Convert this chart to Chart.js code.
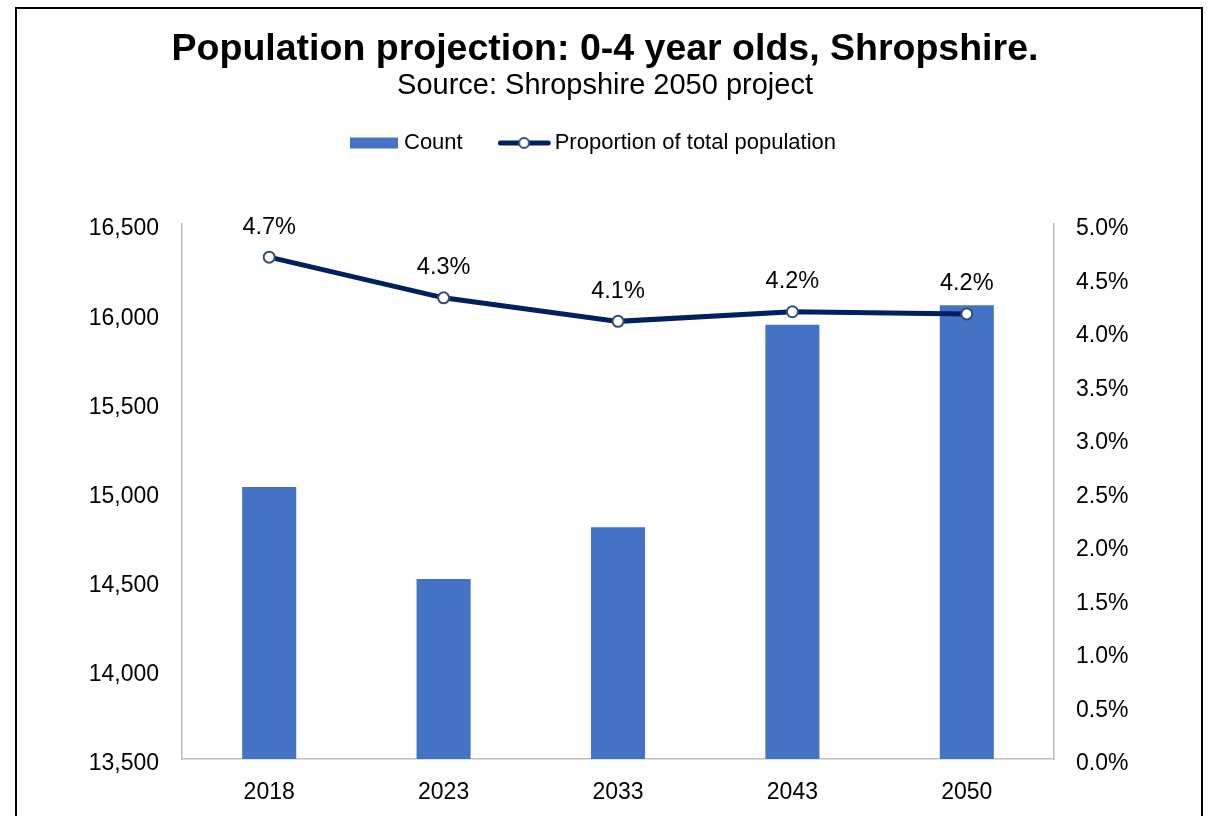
<!DOCTYPE html>
<html>
<head>
<meta charset="utf-8">
<script src="https://cdn.jsdelivr.net/npm/chart.js@4.4.0/dist/chart.umd.min.js"></script>
<style>
html,body{margin:0;padding:0;background:#fff;overflow:hidden}
canvas{display:block}
</style>
</head>
<body>
<canvas id="c" width="1210" height="816"></canvas>
<script>
// ---- data ----
const years = ['2018', '2023', '2033', '2043', '2050'];
const countValues = [15025, 14510, 14800, 15935, 16045];
const proportionValues = [4.69, 4.31, 4.09, 4.18, 4.16];   // percent
const countAxis = { min: 13500, max: 16500, step: 500 };
const proportionAxis = { min: 0, max: 5, step: 0.5 };
const titleText = 'Population projection: 0-4 year olds, Shropshire.';
const subtitleText = 'Source: Shropshire 2050 project';
const seriesNames = ['Count', 'Proportion of total population'];

// ---- style ----
const FONT = "'Liberation Sans', Arial, Helvetica, sans-serif";
const BAR_COLOR = '#4472C4';
const LINE_COLOR = '#002060';
const AXIS_COLOR = '#BFBFBF';
const LEG_B = 19, LEG_P = 62;

function makeIcon(w, h, drawFn) {
  const cv = document.createElement('canvas');
  cv.width = w; cv.height = h;
  drawFn(cv.getContext('2d'), w, h);
  return cv;
}
const barIcon = makeIcon(67, 12, (g) => {
  g.fillStyle = BAR_COLOR;
  g.fillRect(0, 0.5, 48, 11);
});
const lineIcon = makeIcon(73, 16, (g) => {
  g.strokeStyle = LINE_COLOR;
  g.lineWidth = 5;
  g.lineCap = 'round';
  g.beginPath(); g.moveTo(2.5, 8); g.lineTo(50.5, 8); g.stroke();
  g.beginPath(); g.arc(26.3, 8, 5, 0, Math.PI * 2);
  g.fillStyle = '#fff'; g.fill();
  g.lineWidth = 2; g.strokeStyle = '#3B4E6E'; g.stroke();
});
const legendIcons = [barIcon, lineIcon];

Chart.defaults.font.family = FONT;
Chart.defaults.color = '#000';

const borderPlugin = {
  id: 'frame',
  afterDraw(chart) {
    const g = chart.ctx;
    g.save();
    g.strokeStyle = '#000';
    g.lineWidth = 2;
    g.strokeRect(16, 8, 1186, 900);
    g.restore();
  }
};

const legendSpacePlugin = {
  id: 'legendSpace',
  beforeLayout(chart) {
    const lg = chart.legend;
    if (lg && !lg._patched) {
      const orig = lg.fit;
      lg.fit = function () { orig.call(this); this.height = 154; };
      lg._patched = true;
    }
  }
};

const valueLabelPlugin = {
  id: 'valueLabels',
  afterDatasetsDraw(chart) {
    const g = chart.ctx;
    const meta = chart.getDatasetMeta(1);
    g.save();
    g.font = '23.5px ' + FONT;
    g.fillStyle = '#000';
    g.textAlign = 'center';
    g.textBaseline = 'middle';
    meta.data.forEach((pt, i) => {
      g.fillText(proportionValues[i].toFixed(1) + '%', pt.x, pt.y - 30);
    });
    g.restore();
  }
};

new Chart(document.getElementById('c'), {
  data: {
    labels: years,
    datasets: [
      {
        type: 'bar',
        label: seriesNames[0],
        data: countValues,
        backgroundColor: BAR_COLOR,
        yAxisID: 'y',
        categoryPercentage: 1,
        barPercentage: 0.31,
        order: 2
      },
      {
        type: 'line',
        label: seriesNames[1],
        data: proportionValues,
        borderColor: LINE_COLOR,
        borderWidth: 5,
        tension: 0,
        pointRadius: 5.5,
        pointBackgroundColor: '#fff',
        pointBorderColor: '#3B4E6E',
        pointBorderWidth: 2,
        yAxisID: 'y1',
        order: 1
      }
    ]
  },
  options: {
    responsive: false,
    animation: false,
    devicePixelRatio: 1,
    layout: { padding: 0 },
    plugins: {
      tooltip: { enabled: false },
      title: {
        display: true,
        text: titleText,
        font: { size: 37.5, weight: 'bold', lineHeight: 1.0 },
        color: '#000',
        padding: { top: 30.75, bottom: 0 }
      },
      subtitle: {
        display: true,
        text: subtitleText,
        font: { size: 29, weight: 'normal', lineHeight: 1.0 },
        color: '#000',
        padding: { top: 3.25, bottom: -30.5 }
      },
      legend: {
        display: true,
        position: 'top',
        labels: {
          usePointStyle: true,
          pointStyleWidth: LEG_B,
          padding: LEG_P,
          color: '#000',
          font: { size: 22 },
          generateLabels: (chart) => chart.data.datasets.map((ds, i) => ({
            text: ds.label,
            pointStyle: legendIcons[i],
            fillStyle: 'transparent',
            strokeStyle: 'transparent',
            lineWidth: 0,
            hidden: false,
            datasetIndex: i
          }))
        }
      }
    },
    scales: {
      x: {
        type: 'category',
        offset: true,
        grid: { display: false, drawTicks: false },
        border: { display: true, color: AXIS_COLOR, width: 1.5 },
        ticks: { font: { size: 23 }, color: '#000', padding: 20 },
        afterFit(s) { s.height = 57; }
      },
      y: {
        position: 'left',
        min: countAxis.min,
        max: countAxis.max,
        grid: { display: false, drawTicks: false },
        border: { display: true, color: AXIS_COLOR, width: 1.5 },
        ticks: {
          stepSize: countAxis.step,
          font: { size: 23 },
          color: '#000',
          padding: 23,
          labelOffset: 5,
          callback: (v) => Number(v).toLocaleString('en-US')
        },
        afterFit(s) { s.width = 182; }
      },
      y1: {
        position: 'right',
        min: proportionAxis.min,
        max: proportionAxis.max,
        grid: { display: false, drawTicks: false },
        border: { display: true, color: AXIS_COLOR, width: 1.5 },
        ticks: {
          stepSize: proportionAxis.step,
          font: { size: 23 },
          color: '#000',
          padding: 22,
          labelOffset: 5,
          callback: (v) => Number(v).toFixed(1) + '%'
        },
        afterFit(s) { s.width = 156; }
      }
    }
  },
  plugins: [borderPlugin, legendSpacePlugin, valueLabelPlugin]
});
</script>
</body>
</html>
